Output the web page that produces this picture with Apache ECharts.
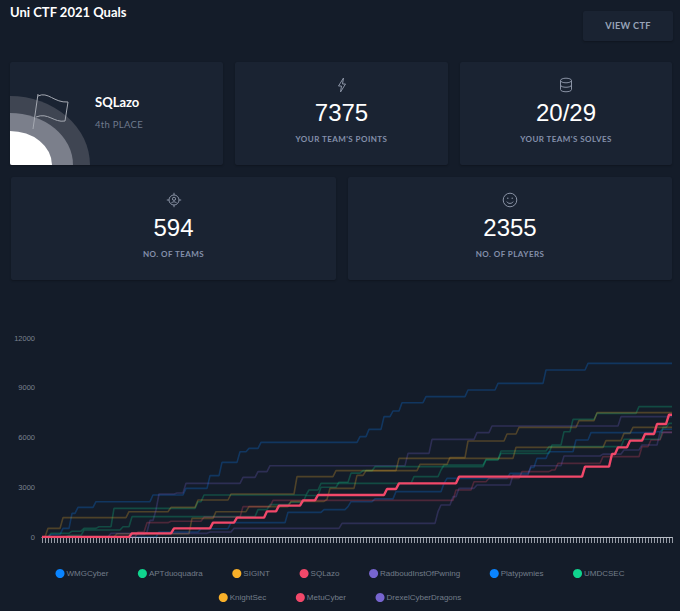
<!DOCTYPE html>
<html><head><meta charset="utf-8">
<script src="https://cdn.jsdelivr.net/npm/echarts@6/dist/echarts.min.js"></script>
<style>
html,body{margin:0;padding:0;background:#141c29;width:680px;height:611px;overflow:hidden;font-family:Lato,sans-serif}
.card{position:absolute;background:#1a2332;border-radius:2px;box-shadow:0 1px 2px rgba(0,0,0,.25)}
.t{position:absolute;white-space:nowrap;line-height:1}
.num{position:absolute;left:0;right:0;text-align:center;font:24px "Liberation Sans",Arial,sans-serif;color:#fff;line-height:1;top:39px}
.lab{position:absolute;left:0;right:0;text-align:center;font:700 8px Lato,sans-serif;letter-spacing:.45px;color:#8490ab;line-height:1;top:73px}
.ic{position:absolute;left:50%;margin-left:-8px;top:15px;width:16px;height:16px}
#chart{position:absolute;left:0;top:300px;width:680px;height:311px}
</style></head><body>
<div class="t" style="left:10px;top:6px;font-weight:700;font-size:13px;color:#fff">Uni CTF 2021 Quals</div>
<div class="card" style="left:583px;top:11px;width:90px;height:30px;text-align:center;line-height:30px;font-weight:700;font-size:9.2px;letter-spacing:.3px;color:#98a3b8">VIEW CTF</div>

<div class="card" style="left:10px;top:62px;width:213px;height:103px;overflow:hidden">
 <svg width="100" height="103" style="position:absolute;left:0;top:0">
  <path d="M0 34A80 69 0 0 1 80 103H0Z" fill="#3f4552"/>
  <path d="M0 51A63 52 0 0 1 63 103H0Z" fill="#7b7f8b"/>
  <path d="M0 69A42 34 0 0 1 42 103H0Z" fill="#fff"/>
  <path d="M23 67L28 32M28 34C38 29 44 41 58 40L55 59C44 61 38 50 26 55" fill="none" stroke="#a5a9b2" stroke-width="1"/>
 </svg>
 <div class="t" style="left:85px;top:34px;font-weight:700;font-size:13px;color:#fff">SQLazo</div>
 <div class="t" style="left:85px;top:58px;font-size:9.5px;letter-spacing:.3px;color:#6f7a8d">4th PLACE</div>
</div>

<div class="card" style="left:235px;top:62px;width:213px;height:103px">
 <svg class="ic" viewBox="0 0 16 16"><path d="M9.5 1L4.5 9H7.5L6.5 15L11.5 7H8.5Z" fill="none" stroke="#8a93a5" stroke-width="1"/></svg>
 <div class="num">7375</div><div class="lab">YOUR TEAM'S POINTS</div>
</div>
<div class="card" style="left:460px;top:62px;width:212px;height:103px">
 <svg class="ic" viewBox="0 0 16 16"><g fill="none" stroke="#8a93a5" stroke-width="1"><ellipse cx="8" cy="3.5" rx="5.5" ry="2.3"/><path d="M2.5 3.5V12.5C2.5 15.5 13.5 15.5 13.5 12.5V3.5M2.5 8C2.5 11 13.5 11 13.5 8"/></g></svg>
 <div class="num">20/29</div><div class="lab">YOUR TEAM'S SOLVES</div>
</div>
<div class="card" style="left:11px;top:177px;width:325px;height:103px">
 <svg class="ic" viewBox="0 0 16 16"><g fill="none" stroke="#8a93a5" stroke-width="1"><circle cx="8" cy="8" r="5"/><circle cx="8" cy="6.8" r="1.6"/><path d="M5.3 11.2C6 9.3 10 9.3 10.7 11.2M8 .8V3M8 13V15.2M.8 8H3M13 8H15.2"/></g></svg>
 <div class="num">594</div><div class="lab">NO. OF TEAMS</div>
</div>
<div class="card" style="left:348px;top:177px;width:324px;height:103px">
 <svg class="ic" viewBox="0 0 16 16"><g fill="none" stroke="#8a93a5" stroke-width="1"><circle cx="8" cy="8" r="6.8"/><path d="M4.8 9.6C5.8 12 10.2 12 11.2 9.6"/></g><circle cx="5.8" cy="6.2" r=".7" fill="#8a93a5"/><circle cx="10.2" cy="6.2" r=".7" fill="#8a93a5"/></svg>
 <div class="num">2355</div><div class="lab">NO. OF PLAYERS</div>
</div>
<div id="chart"></div>
<script>
// Score changes per team as [tick, points]; each score holds until its next change.
const tickCount = 211;
const yTicks = [0, 3000, 6000, 9000, 12000];
const WMGCyber = [[0,0],[3,150],[7,522],[10,1427],[12,1789],[18,2130],[37,2533],[48,2935],[56,3698],[60,4500],[66,5145],[69,5346],[73,5708],[106,6050],[109,6492],[114,7256],[117,7598],[120,8100],[128,8462],[142,8864],[152,9266],[168,10070],[182,10472]];
const APTduoquadra = [[0,0],[3,220],[10,350],[14,520],[19,620],[24,1729],[52,2130],[54,2533],[89,2834],[93,3236],[124,3638],[133,4040],[134,4341],[148,4683],[153,5045],[170,5547],[174,6351],[177,7095],[185,7457],[199,7859]];
const SIGINT = [[0,0],[2,522],[7,1166],[29,1527],[43,1789],[52,2231],[63,2593],[85,3638],[98,4000],[126,4382],[136,4784],[142,5789],[155,6211],[159,6613],[179,7015],[185,7497]];
const SQLazo = [[0,0],[30,220],[44,522],[57,864],[65,1166],[75,1548],[79,1889],[87,2211],[92,2533],[115,2894],[119,3236],[139,3638],[181,4241],[190,5005],[192,5407],[196,5809],[201,6210],[205,6813],[209,7375]];
const RadboudInstOfPwning = [[0,0],[30,150],[35,300],[36,1000],[38,1630],[39,2593],[45,2650],[48,3236],[67,3598],[72,3940],[76,4301],[122,5045],[130,5889],[145,6291],[150,6693],[193,7256]];
const Platypwnies = [[0,0],[39,300],[53,500],[63,864],[82,1487],[94,1650],[102,1829],[103,2130],[111,2300],[118,2734],[134,3236],[135,3538],[156,3839],[163,4200],[165,4743],[169,5145],[178,5849],[183,6291],[205,6351],[207,6500]];
const UMDCSEC = [[0,0],[9,100],[14,420],[27,620],[30,1226],[72,1650],[76,1950],[83,2100],[88,2500],[93,3000],[99,3300],[103,3850],[107,4000],[111,4241],[148,4643],[153,5185],[169,5447],[194,5890],[207,6613],[209,6850]];
const KnightSec = [[0,0],[25,200],[50,1125],[58,1527],[69,1829],[83,2150],[95,2271],[96,2935],[105,3718],[108,4000],[119,4743],[158,5407],[188,5809],[194,6250],[197,6613]];
const MetuCyber = [[0,0],[32,300],[35,864],[43,950],[54,1200],[67,1829],[77,2211],[138,2834],[144,3336],[149,3538],[160,3940],[170,4040],[172,4441],[187,4844],[200,5447],[203,5849],[207,6310]];
const DrexelCyberDragons = [[0,0],[23,220],[56,300],[64,523],[100,824],[132,1527],[133,1930],[137,2432],[139,2935],[145,3135],[157,3738],[163,4300],[174,4884],[187,5000],[194,5246],[200,5547],[206,6310]];
const teams = [
 ['WMGCyber',WMGCyber,'#0a84ff'],['APTduoquadra',APTduoquadra,'#10d48e'],['SIGINT',SIGINT,'#f9b029'],
 ['SQLazo',SQLazo,'#f2486a'],['RadboudInstOfPwning',RadboudInstOfPwning,'#7765cf'],['Platypwnies',Platypwnies,'#0a84ff'],
 ['UMDCSEC',UMDCSEC,'#10d48e'],['KnightSec',KnightSec,'#f9b029'],['MetuCyber',MetuCyber,'#f2486a'],['DrexelCyberDragons',DrexelCyberDragons,'#7765cf']];
const categories = Array.from({length:tickCount},(_,i)=>String(i));
function hold(changes){let out=[],j=0,v=0;for(let i=0;i<tickCount;i++){while(j<changes.length&&changes[j][0]<=i){v=changes[j][1];j++}out.push(v)}return out}
const chart = echarts.init(document.getElementById('chart'),null,{renderer:'svg'});
const legendBase = {left:'center',itemGap:29.6,itemWidth:9,itemHeight:9,icon:'circle',padding:0,
  textStyle:{color:'#737c8a',fontSize:8,fontFamily:'"Liberation Sans",Arial,sans-serif',padding:[0,0,0,-3]}};
chart.setOption({
 animation:false,backgroundColor:'transparent',
 grid:{left:42,right:8,top:38,bottom:74},
 legend:[
  Object.assign({},legendBase,{top:269,data:teams.slice(0,7).map(t=>t[0])}),
  Object.assign({},legendBase,{top:293,data:teams.slice(7).map(t=>t[0])})],
 xAxis:{type:'category',data:categories,boundaryGap:false,
  axisLine:{lineStyle:{color:'#b8bdc6',width:1}},
  axisTick:{show:true,interval:0,length:6,lineStyle:{color:'#b8bdc6',width:1,opacity:.8}},
  axisLabel:{show:false}},
 yAxis:{type:'value',min:0,max:12000,interval:3000,
  axisLine:{show:false},axisTick:{show:false},splitLine:{show:false},
  axisLabel:{color:'#7a8290',fontSize:7.5,margin:7,fontFamily:'"Liberation Sans",Arial,sans-serif',
   customValues:yTicks,formatter:v=>String(v)}},
 series:teams.map(t=>({name:t[0],type:'line',data:hold(t[1]),showSymbol:false,symbol:'none',
  z:t[0]==='SQLazo'?10:2,itemStyle:{color:t[2]},
  lineStyle:{color:t[2],width:t[0]==='SQLazo'?2.4:1.6,opacity:t[0]==='SQLazo'?1:0.26}}))
});
</script></body></html>
